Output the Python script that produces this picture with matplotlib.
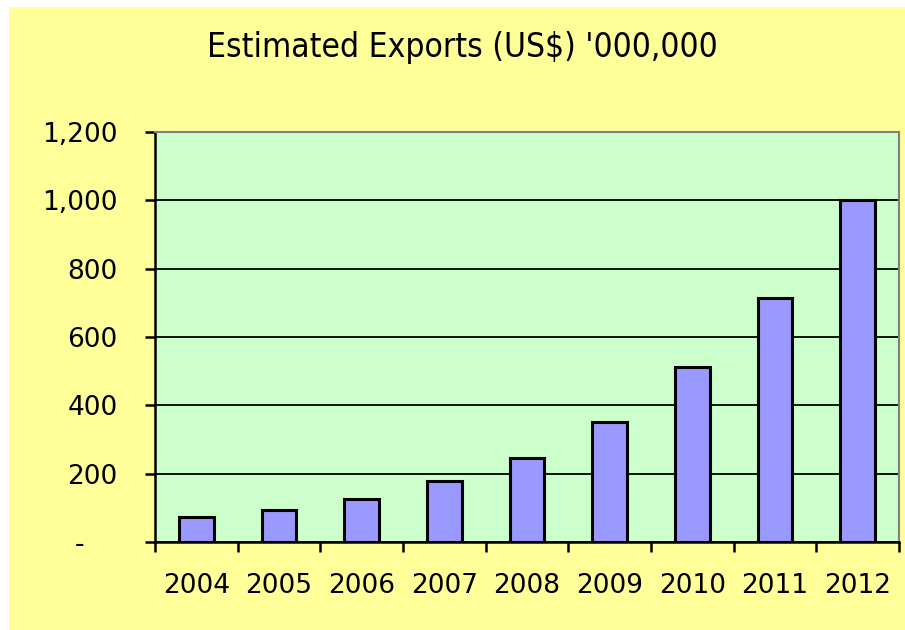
import matplotlib.pyplot as plt
from matplotlib.patches import Rectangle
import numpy as np

# Export estimates by year (US$ millions)
years = ["2004", "2005", "2006", "2007", "2008", "2009", "2010", "2011", "2012"]
exports = [72, 93, 126, 180, 245, 350, 511, 715, 1000]
y_ticks = [0, 200, 400, 600, 800, 1000, 1200]
y_labels = ["-    ", "200", "400", "600", "800", "1,000", "1,200"]

fig = plt.figure(figsize=(9.05, 6.3), dpi=100)
fig.patch.set_facecolor("#FFFF99")
# thin white margin on the left and top
fig.patches.append(Rectangle((0, 0), 9 / 905, 1, transform=fig.transFigure,
                             facecolor="white", edgecolor="none", zorder=-1))
fig.patches.append(Rectangle((0, 1 - 7 / 630), 1, 7 / 630, transform=fig.transFigure,
                             facecolor="white", edgecolor="none", zorder=-1))

ax = fig.add_axes([155 / 905, 1 - 542 / 630, 744 / 905, 410 / 630])
ax.set_facecolor("#CCFFCC")

x = np.arange(len(years))
ax.bar(x, exports, width=0.42, color="#9999FF", edgecolor="black",
       linewidth=2.2, zorder=3)

ax.set_xlim(-0.5, len(years) - 0.5)
ax.set_ylim(0, 1200)

ax.set_yticks(y_ticks)
ax.set_yticklabels(y_labels)
ax.yaxis.grid(True, color="black", linewidth=1.3, zorder=1)
ax.set_axisbelow(True)

ax.set_xticks(x)
ax.set_xticklabels(years)
ax.set_xticks(np.arange(len(years) + 1) - 0.5, minor=True)
ax.tick_params(axis="x", which="major", length=0, pad=22, labelsize=19)
ax.tick_params(axis="x", which="minor", length=7, width=1.8, direction="out")
ax.tick_params(axis="y", length=7, width=1.8, direction="out", pad=20, labelsize=19)

for s in ["left", "bottom"]:
    ax.spines[s].set_color("black")
    ax.spines[s].set_linewidth(1.8)
for s in ["top", "right"]:
    ax.spines[s].set_color("#808080")
    ax.spines[s].set_linewidth(1.5)

fig.text(462 / 905, 1 - 47 / 630, "Estimated Exports (US$) '000,000",
         ha="center", va="center", fontsize=24, family="DejaVu Sans",
         fontstretch="condensed")

fig.savefig("out.png", dpi=100)
